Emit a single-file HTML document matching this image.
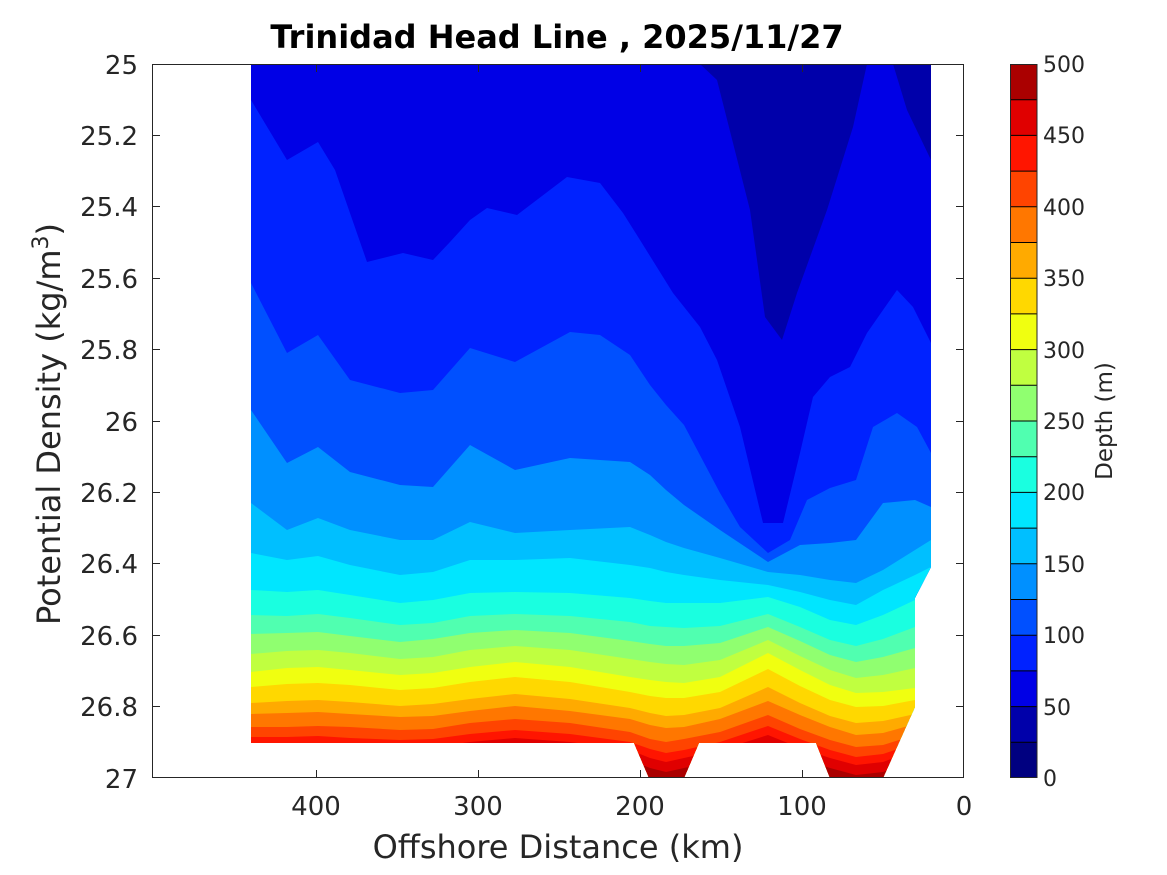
<!DOCTYPE html>
<html><head><meta charset="utf-8"><style>
html,body{margin:0;padding:0;background:#fff}
svg{display:block}
text{font-family:"DejaVu Sans","Liberation Sans",sans-serif;fill:#262626}
</style></head><body>
<svg width="1167" height="875" viewBox="0 0 1167 875" xmlns="http://www.w3.org/2000/svg">
<defs>
<clipPath id="dc"><path d="M251,64 L931,64 L931,567 L915,598 L915,707 L883,778 L830,778 L816,743 L699,743 L684,778 L649,778 L634,743 L251,743 Z"/></clipPath>
</defs>
<rect x="0" y="0" width="1167" height="875" fill="#fff"/>
<g clip-path="url(#dc)">
<rect x="240" y="60" width="700" height="730" fill="#0000E6"/>
<polygon fill="#0022FF" points="240,100 251,100 287,160 318,142 335,170 367,262 403,253 433,260 450,242 470,220 487,208 517,215 567,177 600,183 623,213 640,240 673,293 700,327 717,360 740,427 763,523 783,523 800,453 813,397 830,377 850,367 867,333 897,290 913,307 931,343 940,343 940,790 240,790"/>
<polygon fill="#0050FF" points="240,283 251,283 287,353 318,335 350,380 400,393 433,390 470,348 515,362 570,332 600,335 630,355 650,385 666,405 684,425 720,493 740,527 768,553 790,540 807,500 830,488 856,480 873,427 897,413 917,427 931,453 940,453 940,790 240,790"/>
<polygon fill="#0090FF" points="240,410 251,410 287,463 318,447 350,472 400,485 433,487 470,445 515,470 570,458 630,462 650,475 666,490 684,505 720,530 768,562 800,545 830,543 856,540 883,503 915,500 931,507 940,507 940,790 240,790"/>
<polygon fill="#00BFFF" points="240,503 251,503 287,530 318,518 350,530 400,540 433,540 470,522 515,533 570,530 630,527 650,535 666,542 684,548 720,558 768,572 800,575 830,580 856,583 883,570 915,550 931,540 940,540 940,790 240,790"/>
<polygon fill="#00E6FF" points="240,553 251,553 287,560 318,556 350,565 400,575 433,572 470,560 515,560 570,558 630,565 650,568 666,572 684,575 720,580 768,585 800,592 830,600 856,605 883,590 915,575 931,567 940,567 940,790 240,790"/>
<polygon fill="#1AFFE0" points="240,590 251,590 287,592 318,590 350,595 400,603 433,600 470,593 515,592 570,593 630,598 650,601 666,603 684,603 720,603 768,597 800,607 830,620 856,625 883,615 915,600 931,600 940,600 940,790 240,790"/>
<polygon fill="#50FFB0" points="240,615 251,615 287,616 318,614 350,618 400,625 433,623 470,616 515,614 570,616 630,622 650,626 666,627 684,628 720,626 768,614 800,627 830,640 856,646 883,639 915,627 931,627 940,627 940,790 240,790"/>
<polygon fill="#90FF70" points="240,634 251,634 287,633 318,632 350,636 400,642 433,639 470,633 515,630 570,633 630,641 650,644 666,646 684,646 720,643 768,627 800,641 830,655 856,662 883,657 915,648 931,648 940,648 940,790 240,790"/>
<polygon fill="#C0FF40" points="240,654 251,654 287,651 318,650 350,653 400,659 433,657 470,650 515,646 570,650 630,659 650,662 666,664 684,665 720,660 768,640 800,656 830,670 856,678 883,675 915,668 931,668 940,668 940,790 240,790"/>
<polygon fill="#F0FF10" points="240,672 251,672 287,668 318,667 350,670 400,675 433,673 470,667 515,662 570,667 630,677 650,680 666,682 684,683 720,677 768,653 800,670 830,685 856,693 883,692 915,688 931,688 940,688 940,790 240,790"/>
<polygon fill="#FFD800" points="240,687 251,687 287,684 318,683 350,685 400,690 433,688 470,682 515,677 570,682 630,692 650,696 666,698 684,698 720,692 768,669 800,686 830,700 856,707 883,706 915,700 931,700 940,700 940,790 240,790"/>
<polygon fill="#FFAA00" points="240,703 251,703 287,701 318,700 350,702 400,706 433,704 470,699 515,694 570,699 630,708 650,713 666,716 684,715 720,708 768,687 800,703 830,716 856,723 883,721 915,714 931,714 940,714 940,790 240,790"/>
<polygon fill="#FF7700" points="240,714 251,714 287,713 318,712 350,714 400,717 433,716 470,711 515,706 570,711 630,719 650,725 666,728 684,727 720,719 768,701 800,715 830,727 856,735 883,733 915,724 931,724 940,724 940,790 240,790"/>
<polygon fill="#FF4400" points="240,727 251,727 287,727 318,726 350,727 400,730 433,729 470,723 515,719 570,723 630,732 650,739 666,742 684,739 720,732 768,715 800,729 830,740 856,747 883,745 915,735 931,735 940,735 940,790 240,790"/>
<polygon fill="#FF1500" points="240,737 251,737 287,737 318,736 350,738 400,740 433,739 470,734 515,730 570,734 630,742 650,749 666,753 684,750 720,742 768,726 800,739 830,750 856,757 883,754 915,743 931,743 940,743 940,790 240,790"/>
<polygon fill="#E00000" points="240,745 251,745 287,746 318,745 350,746 400,748 433,747 470,742 515,738 570,742 630,750 650,758 666,762 684,758 720,750 768,735 800,748 830,758 856,765 883,762 915,750 931,750 940,750 940,790 240,790"/>
<polygon fill="#AA0000" points="240,755 251,755 287,756 318,755 350,756 400,758 433,757 470,752 515,748 570,752 630,760 650,768 666,772 684,768 720,760 768,745 800,758 830,768 856,775 883,772 915,760 931,760 940,760 940,790 240,790"/>
<polygon fill="#0000AA" points="700,60 700,64 717,80 733,143 750,210 765,317 782,340 797,293 827,210 853,127 867,64 867,60"/>
<polygon fill="#0000AA" points="893,60 893,64 907,110 931,160 940,160 940,60"/>
</g>
<rect x="152.5" y="64.5" width="811" height="713" fill="none" stroke="#262626" stroke-width="1"/>
<g stroke="#262626" stroke-width="1">
<line x1="316.5" y1="778" x2="316.5" y2="770"/><line x1="478.5" y1="778" x2="478.5" y2="770"/><line x1="640.5" y1="778" x2="640.5" y2="770"/><line x1="802.5" y1="778" x2="802.5" y2="770"/>
<line x1="316.5" y1="64" x2="316.5" y2="72"/><line x1="478.5" y1="64" x2="478.5" y2="72"/><line x1="640.5" y1="64" x2="640.5" y2="72"/><line x1="802.5" y1="64" x2="802.5" y2="72"/>
<line x1="152" y1="135.5" x2="160" y2="135.5"/><line x1="152" y1="206.5" x2="160" y2="206.5"/><line x1="152" y1="278.5" x2="160" y2="278.5"/><line x1="152" y1="349.5" x2="160" y2="349.5"/><line x1="152" y1="421.5" x2="160" y2="421.5"/><line x1="152" y1="492.5" x2="160" y2="492.5"/><line x1="152" y1="563.5" x2="160" y2="563.5"/><line x1="152" y1="635.5" x2="160" y2="635.5"/><line x1="152" y1="706.5" x2="160" y2="706.5"/>
<line x1="964" y1="135.5" x2="956" y2="135.5"/><line x1="964" y1="206.5" x2="956" y2="206.5"/><line x1="964" y1="278.5" x2="956" y2="278.5"/><line x1="964" y1="349.5" x2="956" y2="349.5"/><line x1="964" y1="421.5" x2="956" y2="421.5"/><line x1="964" y1="492.5" x2="956" y2="492.5"/><line x1="964" y1="563.5" x2="956" y2="563.5"/><line x1="964" y1="635.5" x2="956" y2="635.5"/><line x1="964" y1="706.5" x2="956" y2="706.5"/>
</g>
<g font-size="26" text-anchor="end">
<text x="138" y="74">25</text><text x="138" y="145">25.2</text><text x="138" y="216">25.4</text><text x="138" y="288">25.6</text><text x="138" y="359">25.8</text><text x="138" y="431">26</text><text x="138" y="502">26.2</text><text x="138" y="573">26.4</text><text x="138" y="645">26.6</text><text x="138" y="716">26.8</text><text x="138" y="788">27</text>
</g>
<g font-size="26" text-anchor="middle">
<text x="316" y="815">400</text><text x="478" y="815">300</text><text x="640" y="815">200</text><text x="802" y="815">100</text><text x="964" y="815">0</text>
</g>
<text x="558" y="858" font-size="32" text-anchor="middle">Offshore Distance (km)</text>
<text transform="translate(60,424) rotate(-90)" font-size="32" text-anchor="middle">Potential Density (kg/m<tspan font-size="22" dy="-12">3</tspan><tspan dy="12">)</tspan></text>
<text x="557" y="48" font-size="32" font-weight="bold" text-anchor="middle" style="fill:#000">Trinidad Head Line , 2025/11/27</text>
<g>
<rect x="1010" y="742.3" width="27" height="35.7" fill="#000080"/>
<rect x="1010" y="706.6" width="27" height="35.7" fill="#0000AA"/>
<rect x="1010" y="670.9" width="27" height="35.7" fill="#0000E6"/>
<rect x="1010" y="635.2" width="27" height="35.7" fill="#0022FF"/>
<rect x="1010" y="599.5" width="27" height="35.7" fill="#0050FF"/>
<rect x="1010" y="563.8" width="27" height="35.7" fill="#0090FF"/>
<rect x="1010" y="528.1" width="27" height="35.7" fill="#00BFFF"/>
<rect x="1010" y="492.4" width="27" height="35.7" fill="#00E6FF"/>
<rect x="1010" y="456.7" width="27" height="35.7" fill="#1AFFE0"/>
<rect x="1010" y="421" width="27" height="35.7" fill="#50FFB0"/>
<rect x="1010" y="385.3" width="27" height="35.7" fill="#90FF70"/>
<rect x="1010" y="349.6" width="27" height="35.7" fill="#C0FF40"/>
<rect x="1010" y="313.9" width="27" height="35.7" fill="#F0FF10"/>
<rect x="1010" y="278.2" width="27" height="35.7" fill="#FFD800"/>
<rect x="1010" y="242.5" width="27" height="35.7" fill="#FFAA00"/>
<rect x="1010" y="206.8" width="27" height="35.7" fill="#FF7700"/>
<rect x="1010" y="171.1" width="27" height="35.7" fill="#FF4400"/>
<rect x="1010" y="135.4" width="27" height="35.7" fill="#FF1500"/>
<rect x="1010" y="99.7" width="27" height="35.7" fill="#E00000"/>
<rect x="1010" y="64" width="27" height="35.7" fill="#AA0000"/>
<g stroke="#000" stroke-width="1">
<line x1="1010" y1="742.3" x2="1037" y2="742.3"/><line x1="1010" y1="706.6" x2="1037" y2="706.6"/><line x1="1010" y1="670.9" x2="1037" y2="670.9"/><line x1="1010" y1="635.2" x2="1037" y2="635.2"/><line x1="1010" y1="599.5" x2="1037" y2="599.5"/><line x1="1010" y1="563.8" x2="1037" y2="563.8"/><line x1="1010" y1="528.1" x2="1037" y2="528.1"/><line x1="1010" y1="492.4" x2="1037" y2="492.4"/><line x1="1010" y1="456.7" x2="1037" y2="456.7"/><line x1="1010" y1="421" x2="1037" y2="421"/><line x1="1010" y1="385.3" x2="1037" y2="385.3"/><line x1="1010" y1="349.6" x2="1037" y2="349.6"/><line x1="1010" y1="313.9" x2="1037" y2="313.9"/><line x1="1010" y1="278.2" x2="1037" y2="278.2"/><line x1="1010" y1="242.5" x2="1037" y2="242.5"/><line x1="1010" y1="206.8" x2="1037" y2="206.8"/><line x1="1010" y1="171.1" x2="1037" y2="171.1"/><line x1="1010" y1="135.4" x2="1037" y2="135.4"/><line x1="1010" y1="99.7" x2="1037" y2="99.7"/>
</g>
<rect x="1010.5" y="64.5" width="26.5" height="713" fill="none" stroke="#262626" stroke-width="1"/>
</g>
<g font-size="22" text-anchor="start">
<text x="1043" y="786">0</text><text x="1043" y="715">50</text><text x="1043" y="643">100</text><text x="1043" y="572">150</text><text x="1043" y="500">200</text><text x="1043" y="429">250</text><text x="1043" y="358">300</text><text x="1043" y="286">350</text><text x="1043" y="215">400</text><text x="1043" y="143">450</text><text x="1043" y="72">500</text>
</g>
<text transform="translate(1112,421) rotate(-90)" font-size="23" text-anchor="middle">Depth (m)</text>
</svg>
</body></html>
